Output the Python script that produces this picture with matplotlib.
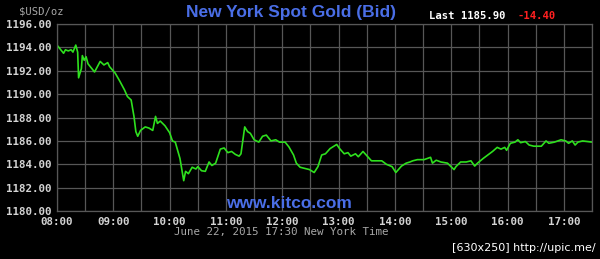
import matplotlib.pyplot as plt
import numpy as np

# data: minutes after 08:00 and bid price
minutes = [0, 7, 9, 12, 15, 17, 20, 22, 23, 26, 27, 29, 31, 33, 40, 46, 50, 54, 56,
           62, 67, 72, 75, 79, 82, 84, 86, 89, 94, 98, 102, 105, 107, 110, 115,
           120, 123, 126, 131, 135, 137, 140, 144, 148, 150, 154, 158, 162, 165,
           169, 174, 178, 182, 186, 190, 194, 196, 200, 203, 206, 210, 215, 219,
           223, 228, 233, 237, 243, 247, 252, 255, 259, 264, 269, 274, 278, 282,
           286, 291, 298, 301, 306, 310, 313, 318, 321, 326, 331, 335, 340, 346,
           351, 357, 361, 367, 372, 376, 379, 384, 391, 398, 400, 404, 409, 416,
           423, 425, 430, 436, 441, 445, 448, 454, 459, 464, 469, 473, 477, 479,
           483, 488, 491, 494, 499, 503, 508, 516, 521, 524, 530, 537, 542, 545,
           549, 552, 555, 560, 570]
price = [1194.2, 1193.5, 1193.8, 1193.7, 1193.8, 1193.6, 1194.2, 1193.6, 1191.4,
         1192.2, 1193.3, 1192.9, 1193.2, 1192.6, 1191.9, 1192.8, 1192.5, 1192.7,
         1192.35, 1191.8, 1191.1, 1190.35, 1189.8, 1189.5, 1188.1, 1186.8, 1186.4,
         1186.9, 1187.2, 1187.1, 1186.9, 1188.1, 1187.5, 1187.7, 1187.3,
         1186.7, 1186.0, 1185.9, 1184.5, 1182.6, 1183.4, 1183.2, 1183.75, 1183.6,
         1183.8, 1183.45, 1183.4, 1184.2, 1183.9, 1184.1, 1185.3, 1185.4, 1185.0,
         1185.1, 1184.85, 1184.7, 1184.9, 1187.2, 1186.8, 1186.65, 1186.1, 1185.9,
         1186.4, 1186.5, 1186.0, 1186.1, 1185.9, 1185.9, 1185.5, 1184.8, 1184.1,
         1183.75, 1183.65, 1183.55, 1183.3, 1183.8, 1184.8, 1184.9, 1185.35,
         1185.7, 1185.35, 1184.9, 1185.0, 1184.7, 1184.9, 1184.65, 1185.1, 1184.65,
         1184.3, 1184.3, 1184.3, 1184.0, 1183.8, 1183.3, 1183.85, 1184.1, 1184.2,
         1184.3, 1184.4, 1184.4, 1184.6, 1184.1, 1184.35, 1184.2, 1184.1, 1183.55,
         1183.8, 1184.2, 1184.2, 1184.3, 1183.85, 1184.1, 1184.5, 1184.8, 1185.1,
         1185.45, 1185.3, 1185.45, 1185.2, 1185.8, 1185.9, 1186.1, 1185.85,
         1185.95, 1185.65, 1185.55, 1185.55, 1186.0, 1185.8, 1185.9, 1186.1,
         1186.0, 1185.8, 1186.0, 1185.65, 1185.9, 1186.0, 1185.9]

hour_labels = ["08:00", "09:00", "10:00", "11:00", "12:00", "13:00",
               "14:00", "15:00", "16:00", "17:00"]
y_ticks = [1180, 1182, 1184, 1186, 1188, 1190, 1192, 1194, 1196]

mono = "DejaVu Sans Mono"

fig = plt.figure(figsize=(6, 2.59), dpi=100, facecolor="black")
ax = fig.add_axes([0.095, 0.185, 0.8917, 0.7222], facecolor="black")

ax.plot(minutes, price, color="#2ee01e", lw=1.2)

ax.set_xlim(0, 570)
ax.set_ylim(1180, 1196)
ax.set_xticks(np.arange(0, 570, 60))
ax.set_xticks(np.arange(0, 571, 30), minor=True)
ax.set_xticklabels(hour_labels, family=mono, weight="bold", fontsize=7.8, color="#d4d4d4")
ax.set_yticks(y_ticks)
ax.set_yticklabels(["%.2f" % v for v in y_ticks], family=mono, weight="bold",
                   fontsize=7.8, color="#d4d4d4")
ax.tick_params(length=0, pad=4)
ax.tick_params(which="minor", length=0)
ax.grid(True, which="both", color="#575757", lw=0.9)
ax.set_axisbelow(True)
for s in ax.spines.values():
    s.set_color("#575757")
    s.set_linewidth(0.9)

fig.text(0.032, 0.955, "$USD/oz", family=mono, fontsize=7.6, color="#a8a8a8", va="center")
fig.text(0.485, 0.953, "New York Spot Gold (Bid)", fontsize=12.5, weight="bold",
         color="#4a6ee6", ha="center", va="center", family="Liberation Sans")
fig.text(0.715, 0.94, "Last 1185.90", family=mono, weight="bold", fontsize=7.6,
         color="white", va="center")
fig.text(0.862, 0.94, "-14.40", family=mono, weight="bold", fontsize=7.6,
         color="#ff2020", va="center")
fig.text(0.482, 0.214, "www.kitco.com", fontsize=12.5, weight="bold", color="#4a6ee6",
         ha="center", va="center", family="Liberation Sans")
fig.text(0.468, 0.104, "June 22, 2015 17:30 New York Time", family=mono, fontsize=7.8,
         color="#a8a8a8", ha="center", va="center")
fig.text(0.992, 0.042, "[630x250] http://upic.me/", fontsize=8, color="white",
         ha="right", va="center", family="DejaVu Sans Condensed")

fig.savefig("out.png", dpi=100, facecolor="black")
